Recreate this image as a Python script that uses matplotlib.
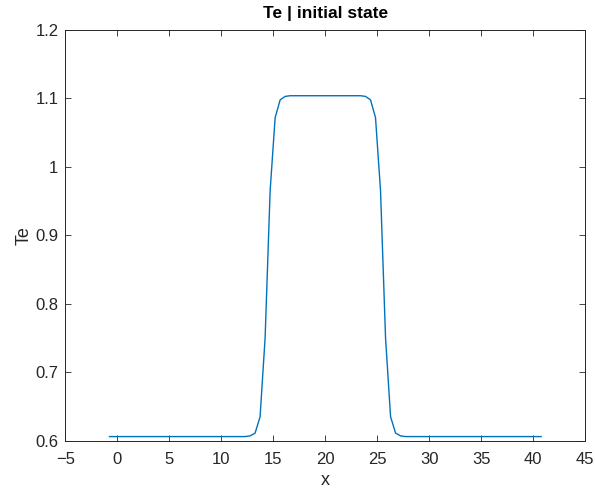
import numpy as np
import matplotlib
matplotlib.use("Agg")
import matplotlib.pyplot as plt
from matplotlib.ticker import FuncFormatter

plt.rcParams['font.family'] = ['Liberation Sans', 'DejaVu Sans']

# malla uniforme de 87 puntos
x = np.linspace(-0.75, 40.75, 87)
Te = [
    0.606, 0.606, 0.606, 0.606, 0.606, 0.606, 0.606, 0.606, 0.606, 0.606,
    0.606, 0.606, 0.606, 0.606, 0.606, 0.606, 0.606, 0.606, 0.606, 0.606,
    0.606, 0.606, 0.606, 0.606, 0.606, 0.606, 0.606, 0.606, 0.607,
    0.611, 0.635, 0.750, 0.965, 1.072, 1.098, 1.103,
    1.104, 1.104, 1.104, 1.104, 1.104, 1.104, 1.104, 1.104, 1.104, 1.104,
    1.104, 1.104, 1.104, 1.104, 1.104,
    1.103, 1.098, 1.072, 0.965, 0.750, 0.635, 0.611,
    0.607, 0.606, 0.606, 0.606, 0.606, 0.606, 0.606, 0.606, 0.606, 0.606,
    0.606, 0.606, 0.606, 0.606, 0.606, 0.606, 0.606, 0.606, 0.606, 0.606,
    0.606, 0.606, 0.606, 0.606, 0.606, 0.606, 0.606, 0.606, 0.606,
]
xticks = np.arange(-5, 46, 5)
yticks = [0.6, 0.7, 0.8, 0.9, 1.0, 1.1, 1.2]

gris = "#262626"
fig = plt.figure(figsize=(5.96, 4.92), dpi=100)
ax = fig.add_axes([0.1096, 0.1043, 0.8725, 0.8347])
ax.plot(x, Te, color="#0072BD", lw=1.0)

ax.set_xlim(-5, 45)
ax.set_ylim(0.6, 1.2)
ax.set_xticks(xticks)
ax.set_yticks(yticks)
ax.yaxis.set_major_formatter(FuncFormatter(lambda v, p: f"{v:g}"))
ax.tick_params(direction="in", top=True, right=True, length=4, width=0.6,
               colors=gris, labelsize=12)
ax.tick_params(axis="x", pad=8)
ax.tick_params(axis="y", pad=5)
for s in ax.spines.values():
    s.set_color(gris)
    s.set_linewidth(0.7)

ax.set_title("Te | initial state", fontsize=12.5, fontweight="bold", color="black", pad=9)
ax.set_xlabel("x", fontsize=13, color=gris, labelpad=4)
ax.set_ylabel("Te", fontsize=13, color=gris, labelpad=2)

fig.savefig("out.png", dpi=100)
